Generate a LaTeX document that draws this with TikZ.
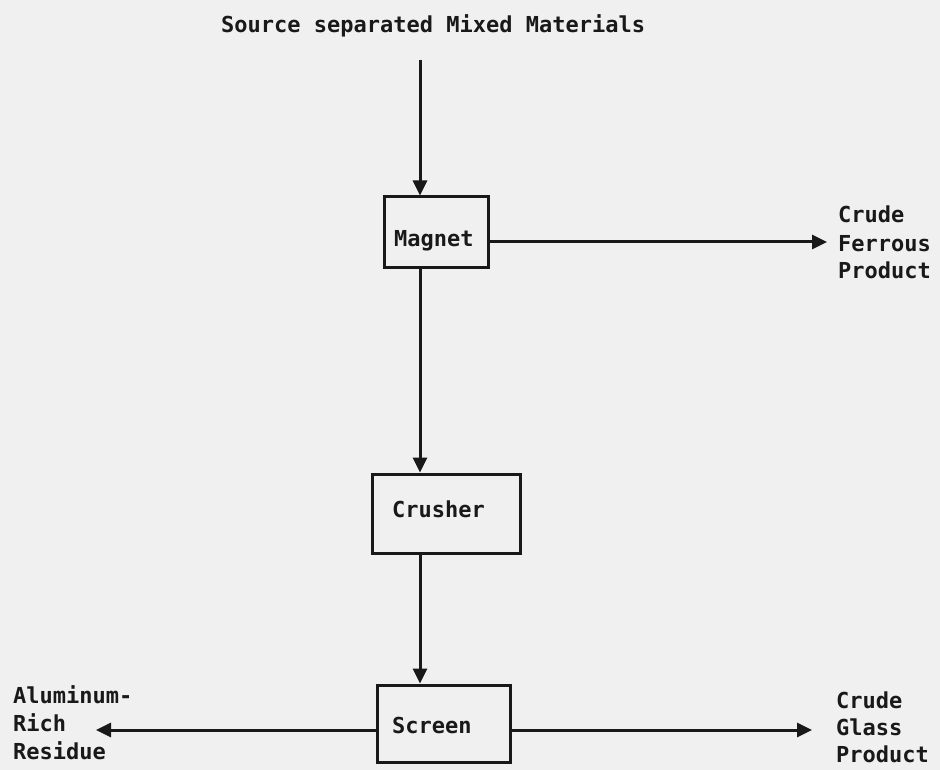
\documentclass[tikz,border=0pt]{standalone}
\usepackage{fontspec}
\setmonofont{DejaVu Sans Mono}
\usetikzlibrary{arrows.meta}
\begin{document}
\begin{tikzpicture}[x=1pt,y=-1pt,
  ink/.style={line width=3pt,draw=black!90},
  arr/.style={ink,-{Triangle[length=15pt,width=14pt]}},
  box/.style={ink,fill=none,inner sep=0pt},
  txt/.style={font=\ttfamily\bfseries\fontsize{22}{28}\selectfont,inner sep=0pt,text=black!90},
  lbl/.style={txt,align=left,anchor=base west}]
\fill[gray!12] (0,0) rectangle (940,770);
\useasboundingbox (0,0) rectangle (940,770);
\node[txt,anchor=base west] (title) at (221,33) {Source separated Mixed Materials};
\node[box,minimum width=104pt,minimum height=71pt] (magnet) at (436,232.5) {};
\node[box,minimum width=148pt,minimum height=79pt] (crusher) at (446,513.5) {};
\node[box,minimum width=133pt,minimum height=77pt] (screen) at (443.5,723.5) {};
\node[txt,anchor=base west] (magnetlbl) at (394,247) {Magnet};
\node[txt,anchor=base west] (crusherlbl) at (392,517) {Crusher};
\node[txt,anchor=base west] (screenlbl) at (392,733) {Screen};
\node[lbl] (ferrous) at (838,279) {Crude\\Ferrous\\Product};
\node[lbl,font=\ttfamily\bfseries\fontsize{22}{27}\selectfont] (glass) at (836,762) {Crude\\Glass\\Product};
\node[lbl] (alu) at (13,759) {Aluminum-\\Rich\\Residue};
\coordinate (src) at (420,60);
\coordinate (ferend) at (827,242);
\coordinate (glassend) at (812,730);
\coordinate (aluend) at (96,730);
\draw[arr] (src) -- (src |- magnet.north);
\draw[arr] (magnet.south -| src) -- (crusher.north -| src);
\draw[arr] (crusher.south -| src) -- (screen.north -| src);
\draw[arr] (magnet.east |- ferend) -- (ferend);
\draw[arr] (screen.east |- glassend) -- (glassend);
\draw[arr] (screen.west |- aluend) -- (aluend);
\end{tikzpicture}
\end{document}
